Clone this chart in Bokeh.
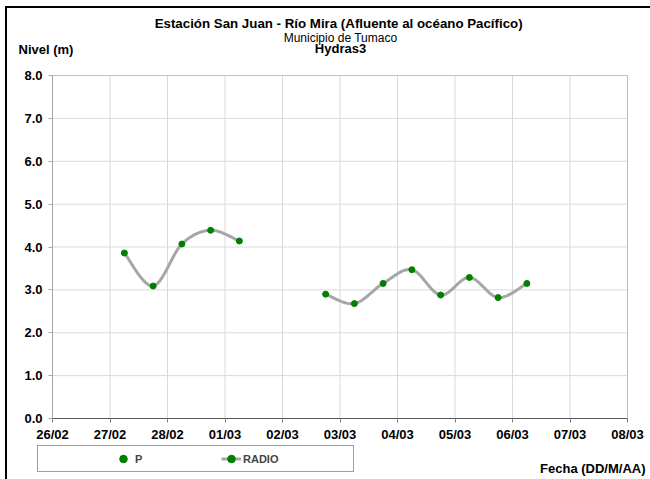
import math
import pandas as pd
from bokeh.plotting import figure
from bokeh.models import (Range1d, DaysTicker, FixedTicker, DatetimeTickFormatter,
                          NumeralTickFormatter, Label, Legend, LegendItem)
from bokeh.embed import file_html
from bokeh.resources import INLINE

FONT = "Liberation Sans"

# ---------------- data ----------------
title_lines = ["Estación San Juan  - Río Mira (Afluente al océano Pacífico)",
               "Municipio de Tumaco",
               "Hydras3"]
y_axis_title = "Nivel (m)"
x_axis_title = "Fecha (DD/M/AA)"
x_start = "2023-02-26"
x_end = "2023-03-08"
y_min, y_max = 0, 8
y_ticks = [0, 1, 2, 3, 4, 5, 6, 7, 8]

radio_times = ["2023-02-27 06:00", "2023-02-27 18:00", "2023-02-28 06:00", "2023-02-28 18:00",
               "2023-03-01 06:00", "2023-03-01 18:00", "2023-03-02 06:00", "2023-03-02 18:00",
               "2023-03-03 06:00", "2023-03-03 18:00", "2023-03-04 06:00", "2023-03-04 18:00",
               "2023-03-05 06:00", "2023-03-05 18:00", "2023-03-06 06:00"]
radio_levels = [3.86, 3.09, 4.07, 4.39, 4.14, float("nan"), float("nan"), 2.90,
                2.68, 3.15, 3.47, 2.88, 3.29, 2.82, 3.15]
# series "P" has no readings in the period (missing value only)
p_times = ["2023-02-27 06:00"]
p_levels = [float("nan")]
legend_labels = ["P", "RADIO"]

# ---------------- layout (pixels) ----------------
FRAME_LEFT, PLOT_LEFT, PLOT_RIGHT, FRAME_RIGHT = 16, 52, 627, 648
FRAME_TOP, PLOT_TOP, PLOT_BOTTOM, FRAME_BOTTOM = 64, 75, 418, 479


def to_ms(ts):
    return pd.Timestamp(ts).value / 1e6


# smoothed line (Excel-style Bezier through the points), broken at gaps
def smooth(xs, ys, steps=24):
    segs, cur = [], []
    for x, y in zip(xs, ys):
        if math.isnan(y):
            if cur:
                segs.append(cur)
            cur = []
        else:
            cur.append((x, y))
    if cur:
        segs.append(cur)
    outx, outy = [], []
    for seg in segs:
        n = len(seg)
        for i in range(n - 1):
            p0 = seg[max(i - 1, 0)]
            p1 = seg[i]
            p2 = seg[i + 1]
            p3 = seg[min(i + 2, n - 1)]
            c1 = (p1[0] + (p2[0] - p0[0]) / 6, p1[1] + (p2[1] - p0[1]) / 6)
            c2 = (p2[0] - (p3[0] - p1[0]) / 6, p2[1] - (p3[1] - p1[1]) / 6)
            for k in range(steps + (1 if i == n - 2 else 0)):
                t = k / steps
                a = (1 - t) ** 3
                b = 3 * (1 - t) ** 2 * t
                c = 3 * (1 - t) * t ** 2
                d = t ** 3
                outx.append(a * p1[0] + b * c1[0] + c * c2[0] + d * p2[0])
                outy.append(a * p1[1] + b * c1[1] + c * c2[1] + d * p2[1])
        outx.append(float("nan"))
        outy.append(float("nan"))
    return outx, outy


x0, x1 = to_ms(x_start), to_ms(x_end)
px_per_ms = (PLOT_RIGHT - PLOT_LEFT) / (x1 - x0)
px_per_unit = (PLOT_BOTTOM - PLOT_TOP) / (y_max - y_min)
xr = Range1d(x0 - (PLOT_LEFT - FRAME_LEFT) / px_per_ms, x1 + (FRAME_RIGHT - PLOT_RIGHT) / px_per_ms)
yr = Range1d(y_min - (FRAME_BOTTOM - PLOT_BOTTOM) / px_per_unit,
             y_max + (PLOT_TOP - FRAME_TOP) / px_per_unit)

rx = [to_ms(t) for t in radio_times]
sx, sy = smooth(rx, radio_levels)

p = figure(width=None, height=None,
           frame_width=FRAME_RIGHT - FRAME_LEFT, frame_height=FRAME_BOTTOM - FRAME_TOP,
           x_axis_type="datetime", x_range=xr, y_range=yr,
           output_backend="svg", toolbar_location=None, title=None,
           min_border_left=FRAME_LEFT, min_border_right=650 - FRAME_RIGHT,
           min_border_top=FRAME_TOP, min_border_bottom=0)
# outer chart frame (left and top edges)
p.styles = {"box-shadow": "inset 5px 6px 0 0 #fff, inset 7px 8px 0 0 #000"}
p.border_fill_alpha = 0
p.background_fill_alpha = 0
p.outline_line_color = None
p.grid.visible = False

# gridlines (plot area only)
grid_days = [to_ms(d) for d in pd.date_range(x_start, x_end, freq="D")]
p.segment(x0=grid_days, y0=[y_min] * len(grid_days), x1=grid_days, y1=[y_max] * len(grid_days),
          line_color="#d9d9d9", line_width=1, level="underlay")
p.segment(x0=[x0] * (len(y_ticks) - 1), y0=y_ticks[1:], x1=[x1] * (len(y_ticks) - 1),
          y1=y_ticks[1:], line_color="#d9d9d9", line_width=1, level="underlay")
p.segment(x0=[x0, x1], y0=[y_max, y_min], x1=[x1, x1], y1=[y_max, y_max],
          line_color="#bfbfbf", line_width=1, level="underlay")

# axes
p.yaxis.ticker = FixedTicker(ticks=y_ticks)
p.yaxis.formatter = NumeralTickFormatter(format="0.0")
p.yaxis.bounds = (y_min, y_max)
p.yaxis.fixed_location = x0
p.xaxis.ticker = DaysTicker(days=list(range(1, 32)))
p.xaxis.formatter = DatetimeTickFormatter(days="%d/%m", months="%d/%m", hours="%d/%m",
                                          years="%d/%m")
p.xaxis.bounds = (x0, x1)
p.xaxis.fixed_location = y_min
for ax in (p.xaxis, p.yaxis):
    ax.major_tick_in = 0
    ax.major_tick_out = 4
    ax.minor_tick_in = 0
    ax.minor_tick_out = 0
    ax.major_label_text_font = FONT
    ax.major_label_text_font_style = "bold"
    ax.major_label_text_font_size = "13px"
    ax.major_label_text_color = "black"
p.yaxis.axis_line_color = "#a6a6a6"
p.yaxis.major_tick_line_color = "#a6a6a6"
p.yaxis.major_label_standoff = 6
p.xaxis.axis_line_color = "#595959"
p.xaxis.major_tick_line_color = "#7f7f7f"
p.xaxis.major_label_standoff = 4

# series
r_p = p.scatter(x=[to_ms(t) for t in p_times], y=p_levels, size=3,
                fill_color="#008000", line_color="#008000")
r_line = p.line(sx, sy, line_color="#a6a6a6", line_width=3)
r_pts = p.scatter(rx, radio_levels, size=6, fill_color="#008000", line_color="#008000")

# legend (blank spacer items keep the keys where the reference has them)
r_sp = p.line([], [], line_alpha=0)
sp = lambda: LegendItem(label=" ", renderers=[r_sp])
leg = Legend(items=[sp(), sp(),
                    LegendItem(label=legend_labels[0], renderers=[r_p]),
                    sp(), sp(),
                    LegendItem(label=legend_labels[1], renderers=[r_line, r_pts]),
                    sp(), sp()],
             orientation="horizontal", location=(37 - FRAME_LEFT, FRAME_BOTTOM - 472),
             padding=3, spacing=2,
             glyph_width=20, glyph_height=19, label_height=19, label_standoff=2,
             label_width=12, margin=0, border_line_color="#404040", border_line_width=1,
             background_fill_color="white", background_fill_alpha=1,
             label_text_font=FONT, label_text_font_style="bold", label_text_font_size="11px")
p.add_layout(leg)


# texts above the frame (side-panel labels, offsets relative to their own row)
def lab(x, y, text, size="13px", style="bold", align="center", panel="above"):
    l = Label(x=x, y=y, x_units="screen", y_units="screen", text=text,
              text_font=FONT, text_font_size=size, text_font_style=style,
              text_align=align, text_baseline="middle", text_color="black")
    if panel:
        p.add_layout(l, panel)
    else:
        p.add_layout(l)


cx = 340 - FRAME_LEFT
lab(cx, 16, title_lines[2])
lab(18 - FRAME_LEFT, 0, y_axis_title, align="left")
lab(cx, -3, title_lines[1], style="normal", size="12px")
lab(cx, -3, title_lines[0], size="13.3px")
# x-axis title inside the frame area (bottom right)
lab(645 - FRAME_LEFT, FRAME_BOTTOM - 468, x_axis_title, align="right", panel=None)

open("out.html", "w").write(file_html(p, INLINE))
